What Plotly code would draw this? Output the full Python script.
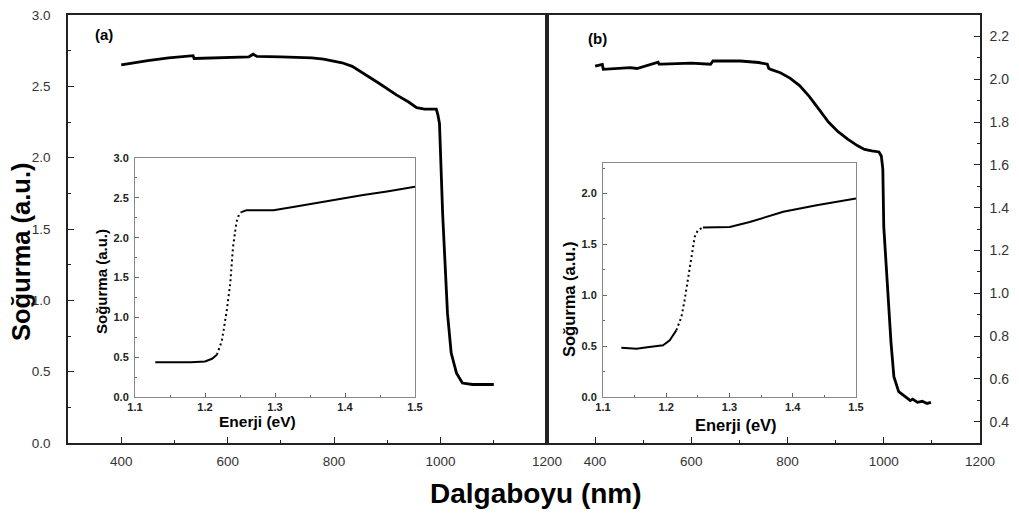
import plotly.graph_objects as go

# ---------------- data ----------------
wl_a = [400, 420, 450, 489, 520, 535, 537, 600, 640, 648, 655, 700, 758, 780, 796, 815,
        834, 860, 885, 917, 940, 955, 970, 992, 995, 998, 1001, 1004, 1007, 1013, 1020,
        1025, 1030, 1041, 1060, 1080, 1100]
abs_a = [2.65, 2.66, 2.68, 2.70, 2.71, 2.715, 2.695, 2.70, 2.707, 2.725, 2.71, 2.707, 2.70,
         2.69, 2.68, 2.665, 2.64, 2.58, 2.52, 2.44, 2.39, 2.35, 2.34, 2.34, 2.30, 2.24, 1.84,
         1.60, 1.37, 0.91, 0.63, 0.55, 0.49, 0.42, 0.41, 0.41, 0.41]

wl_b = [400, 410, 415, 417, 440, 473, 487, 510, 531, 533, 539, 600, 640, 645, 702, 740, 758,
        761, 765, 785, 805, 825, 845, 865, 885, 905, 925, 945, 960, 975, 990, 995, 998, 1000,
        1004, 1008, 1015, 1021, 1031, 1050, 1055, 1060, 1070, 1080, 1090, 1098]
abs_b = [2.061, 2.067, 2.069, 2.046, 2.05, 2.054, 2.05, 2.065, 2.08, 2.07, 2.07, 2.075, 2.07,
         2.085, 2.085, 2.078, 2.07, 2.05, 2.046, 2.03, 2.005, 1.97, 1.92, 1.86, 1.80, 1.755,
         1.72, 1.69, 1.672, 1.665, 1.66, 1.64, 1.58, 1.31, 1.15, 1.00, 0.77, 0.61, 0.54, 0.507,
         0.498, 0.505, 0.49, 0.495, 0.485, 0.49]

# insets: energy (eV) vs absorbance; split into low / steep (dotted) / high parts
en_a = [1.129, 1.15, 1.18, 1.200, 1.210, 1.217, 1.224, 1.231, 1.236, 1.240, 1.245, 1.249,
        1.252, 1.2595, 1.28, 1.298, 1.33, 1.355, 1.39, 1.426, 1.46, 1.50]
ins_a = [0.435, 0.432, 0.435, 0.445, 0.48, 0.53, 0.70, 1.08, 1.42, 1.88, 2.20, 2.30,
         2.32, 2.345, 2.345, 2.345, 2.39, 2.43, 2.485, 2.535, 2.58, 2.64]
steep_a = (5, 12)   # index range of the dotted part

en_b = [1.129, 1.14, 1.153, 1.17, 1.195, 1.2055, 1.216, 1.224, 1.229, 1.2346, 1.240, 1.245,
        1.250, 1.258, 1.28, 1.3005, 1.332, 1.36, 1.385, 1.4377, 1.47, 1.50]
ins_b = [0.485, 0.48, 0.475, 0.49, 0.508, 0.557, 0.656, 0.787, 0.951, 1.18, 1.377, 1.574,
         1.64, 1.666, 1.67, 1.672, 1.72, 1.77, 1.82, 1.885, 1.92, 1.95]
steep_b = (6, 13)

main_xticks = [400, 600, 800, 1000, 1200]
main_xminor = [500, 700, 900, 1100]
left_yticks = [0.0, 0.5, 1.0, 1.5, 2.0, 2.5, 3.0]
right_yticks = [0.4, 0.6, 0.8, 1.0, 1.2, 1.4, 1.6, 1.8, 2.0, 2.2]
inset_xticks = [1.1, 1.2, 1.3, 1.4, 1.5]
inset_a_yticks = [0.0, 0.5, 1.0, 1.5, 2.0, 2.5, 3.0]
inset_b_yticks = [0.0, 0.5, 1.0, 1.5, 2.0]

FONT = "Liberation Sans, Arial, sans-serif"
W, H = 1019, 513


def px_x(p):
    return p / W


def px_y(p):
    return 1 - p / H


fig = go.Figure()

fig.add_trace(go.Scatter(x=wl_a, y=abs_a, mode="lines", line=dict(color="black", width=2.8),
                         xaxis="x", yaxis="y", showlegend=False))
fig.add_trace(go.Scatter(x=wl_b, y=abs_b, mode="lines", line=dict(color="black", width=2.8),
                         xaxis="x2", yaxis="y2", showlegend=False))


def add_inset(en, val, steep, xa, ya):
    s0, s1 = steep
    fig.add_trace(go.Scatter(x=en[:s0 + 1], y=val[:s0 + 1], mode="lines",
                             line=dict(color="black", width=2), xaxis=xa, yaxis=ya, showlegend=False))
    fig.add_trace(go.Scatter(x=en[s0:s1 + 1], y=val[s0:s1 + 1], mode="lines",
                             line=dict(color="black", width=2, dash="2px,3px"),
                             xaxis=xa, yaxis=ya, showlegend=False))
    fig.add_trace(go.Scatter(x=en[s1:], y=val[s1:], mode="lines",
                             line=dict(color="black", width=2), xaxis=xa, yaxis=ya, showlegend=False))


add_inset(en_a, ins_a, steep_a, "x3", "y3")
add_inset(en_b, ins_b, steep_b, "x4", "y4")

main_common = dict(showline=True, linecolor="#222", linewidth=1.6, mirror=True, ticks="inside",
                   tickcolor="#222", ticklen=6, tickwidth=1.2, showgrid=False, zeroline=False,
                   automargin=False)
inset_common = dict(showline=True, linecolor="#888", linewidth=1, mirror=True, ticks="inside",
                    tickcolor="#666", ticklen=4, tickwidth=1, showgrid=False, zeroline=False,
                    automargin=False,
                    tickfont=dict(family=FONT, size=11, color="#222", weight="bold"))

ydom = [px_y(443), px_y(15)]

fig.update_layout(
    template="none",
    width=W, height=H, margin=dict(l=0, r=0, t=0, b=0, pad=0), autosize=False,
    paper_bgcolor="white", plot_bgcolor="white", showlegend=False,
    xaxis=dict(domain=[px_x(68), px_x(547)], range=[300, 1200], anchor="y",
               tickvals=main_xticks, ticktext=[str(v) for v in main_xticks],
               minor=dict(tickvals=main_xminor, ticks="inside", ticklen=3, tickcolor="#222"),
               tickfont=dict(family=FONT, size=13.5, color="#333"), ticklabelstandoff=5,
               **main_common),
    yaxis=dict(domain=ydom, range=[0, 3], anchor="x",
               tickvals=left_yticks, ticktext=[f"{v:.1f}" for v in left_yticks],
               minor=dict(dtick=0.25, tick0=0, ticks="inside", ticklen=3, tickcolor="#222"),
               tickfont=dict(family=FONT, size=13.5, color="#333"), ticklabelstandoff=13,
               **main_common),
    xaxis2=dict(domain=[px_x(547), px_x(980)], range=[300, 1200], anchor="y2",
                tickvals=main_xticks, ticktext=[str(v) for v in main_xticks],
                minor=dict(tickvals=main_xminor, ticks="inside", ticklen=3, tickcolor="#222"),
                tickfont=dict(family=FONT, size=13.5, color="#333"), ticklabelstandoff=5,
                **main_common),
    yaxis2=dict(domain=ydom, range=[0.3, 2.3], anchor="x2", side="right",
                tickvals=right_yticks, ticktext=[f"{v:.1f}" for v in right_yticks],
                minor=dict(dtick=0.2, tick0=0.3, ticks="inside", ticklen=3, tickcolor="#222"),
                tickfont=dict(family=FONT, size=14, color="#333"), ticklabelstandoff=5,
                **main_common),
    xaxis3=dict(domain=[px_x(135), px_x(415)], range=[1.1, 1.5], anchor="y3",
                tickvals=inset_xticks, ticktext=[f"{v:.1f}" for v in inset_xticks],
                minor=dict(dtick=0.05, tick0=1.1, ticks="inside", ticklen=2, tickcolor="#666"),
                ticklabelstandoff=0, **inset_common),
    yaxis3=dict(domain=[px_y(397), px_y(158)], range=[0, 3], anchor="x3",
                tickvals=inset_a_yticks, ticktext=[f"{v:.1f}" for v in inset_a_yticks],
                minor=dict(dtick=0.25, tick0=0, ticks="inside", ticklen=2, tickcolor="#666"),
                ticklabelstandoff=3, **inset_common),
    xaxis4=dict(domain=[px_x(603), px_x(856)], range=[1.1, 1.5], anchor="y4",
                tickvals=inset_xticks, ticktext=[f"{v:.1f}" for v in inset_xticks],
                minor=dict(dtick=0.05, tick0=1.1, ticks="inside", ticklen=2, tickcolor="#666"),
                ticklabelstandoff=0, **inset_common),
    yaxis4=dict(domain=[px_y(397), px_y(163)], range=[0, 2.3], anchor="x4",
                tickvals=inset_b_yticks, ticktext=[f"{v:.1f}" for v in inset_b_yticks],
                minor=dict(dtick=0.25, tick0=0, ticks="inside", ticklen=2, tickcolor="#666"),
                ticklabelstandoff=3, **inset_common),
)


def ann(text, x, y, size, angle=0):
    fig.add_annotation(text=text, x=px_x(x), y=px_y(y), xref="paper", yref="paper",
                       showarrow=False, textangle=angle, xanchor="center", yanchor="middle",
                       font=dict(family=FONT, size=size, color="black", weight="bold"))


ann("Soğurma (a.u.)", 21, 252, 25.5, -90)
ann("Dalgaboyu (nm)", 536, 493, 28)
ann("(a)", 104, 35, 15)
ann("(b)", 597, 39, 15)
ann("Soğurma (a.u.)", 101, 282, 15, -90)
ann("Enerji (eV)", 257, 421, 15.5)
ann("Soğurma (a.u.)", 569, 299, 16.5, -90)
ann("Enerji (eV)", 736, 425, 16.5)

fig.write_html("out.html")
